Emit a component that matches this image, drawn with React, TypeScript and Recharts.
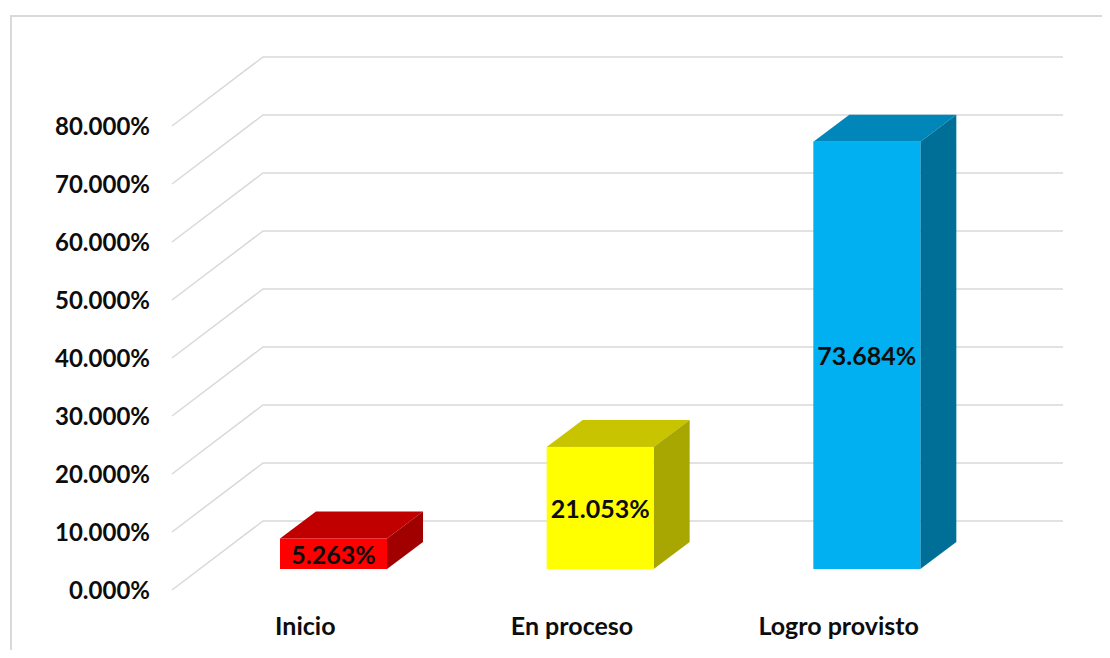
import React from 'react';
import { BarChart, Bar, XAxis, YAxis, CartesianGrid } from 'recharts';

const categories = ['Inicio', 'En proceso', 'Logro provisto'];
const percentages = [5.263, 21.053, 73.684];
const yTicks = [0, 10, 20, 30, 40, 50, 60, 70, 80];

// front / top / side shades per bar
const palette = [
  { front: '#ff0000', top: '#c00000', side: '#a00000' },
  { front: '#ffff00', top: '#c8c400', side: '#a8a600' },
  { front: '#00b0f0', top: '#0086b8', side: '#006f98' },
];

const FONT = 'Lato, "Open Sans", sans-serif';

// floor depth (front edge -> back wall)
const DEPTH_X = 91;
const DEPTH_Y = 69;
// bar placement inside the floor depth
const SHIFT_X = 28;
const SHIFT_Y = 21;
const BAR_DX = 36;
const BAR_DY = 27;

const chartData = categories.map((name, i) => ({ name, value: percentages[i] }));

const fmt = (v: number) => `${v.toFixed(3)}%`;

const GridLine = (props: any) => {
  const { x1, x2, y1, key } = props;
  const bx = x1 + DEPTH_X;
  const by = y1 - DEPTH_Y;
  return (
    <polyline
      key={key}
      points={`${x1},${y1} ${bx},${by} ${x2 + DEPTH_X},${by}`}
      fill="none"
      stroke="#d9d9d9"
      strokeWidth={1.5}
    />
  );
};

const Box3D = (props: any) => {
  const { x, y, width, height, index, payload } = props;
  const c = palette[index % palette.length];
  const fx = x + SHIFT_X;
  const fy = y - SHIFT_Y;
  const fb = fy + height;
  const rx = fx + width;
  return (
    <g>
      <polygon
        points={`${fx},${fy} ${fx + BAR_DX},${fy - BAR_DY} ${rx + BAR_DX},${fy - BAR_DY} ${rx},${fy}`}
        fill={c.top}
      />
      <polygon
        points={`${rx},${fy} ${rx + BAR_DX},${fy - BAR_DY} ${rx + BAR_DX},${fb - BAR_DY} ${rx},${fb}`}
        fill={c.side}
      />
      <rect x={fx} y={fy} width={width} height={height} fill={c.front} />
      <text
        x={fx + width / 2}
        y={fy + height / 2}
        textAnchor="middle"
        dominantBaseline="central"
        fontFamily={FONT}
        fontWeight={700}
        fontSize={25}
        fill="#0d0d0d"
      >
        {fmt(payload.value)}
      </text>
    </g>
  );
};

export default function App() {
  return (
    <div style={{ position: 'relative', width: 1110, height: 658, margin: -8, overflow: 'hidden', background: '#fff' }}>
      <div
        style={{
          position: 'absolute',
          left: 10,
          top: 15,
          width: 1200,
          height: 800,
          borderLeft: '2px solid #d9d9d9',
          borderTop: '2px solid #d9d9d9',
        }}
      />
      <div style={{ position: 'absolute', left: 0, top: 0 }}>
        <BarChart
          width={1110}
          height={658}
          data={chartData}
          margin={{ top: 126, right: 138, bottom: 0, left: 0 }}
          barCategoryGap="30%"
        >
          <CartesianGrid vertical={false} horizontal={GridLine} />
          <XAxis
            dataKey="name"
            height={68}
            axisLine={false}
            tickLine={false}
            tickSize={0}
            tickMargin={27}
            tick={{ fontFamily: FONT, fontWeight: 700, fontSize: 25, fill: '#0d0d0d' }}
          />
          <YAxis
            width={172}
            domain={[0, 80]}
            ticks={yTicks}
            tickFormatter={fmt}
            axisLine={false}
            tickLine={false}
            tickSize={0}
            tickMargin={22}
            tick={{ fontFamily: FONT, fontWeight: 700, fontSize: 24, fill: '#0d0d0d' }}
          />
          <Bar dataKey="value" shape={Box3D} isAnimationActive={false} />
        </BarChart>
      </div>
    </div>
  );
}
